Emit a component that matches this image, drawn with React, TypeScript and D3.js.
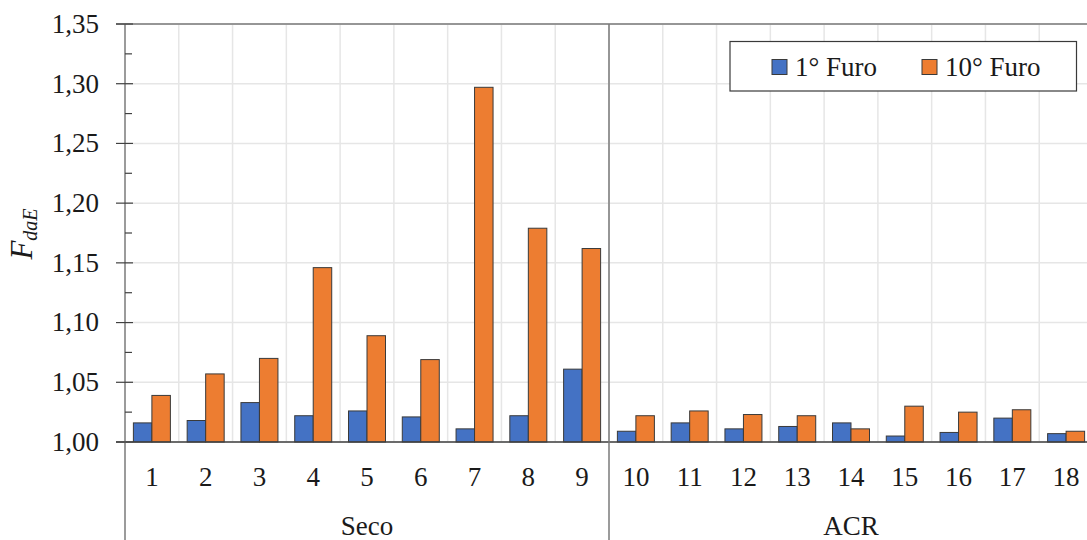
import React from "react";
import * as d3 from "d3";

const categories = ["1","2","3","4","5","6","7","8","9","10","11","12","13","14","15","16","17","18"];
const groups = [
  { name: "Seco", from: 0, to: 9 },
  { name: "ACR", from: 9, to: 18 },
];
const seriesNames = ["1° Furo", "10° Furo"];
const furo1 = [1.016, 1.018, 1.033, 1.022, 1.026, 1.021, 1.011, 1.022, 1.061, 1.009, 1.016, 1.011, 1.013, 1.016, 1.005, 1.008, 1.020, 1.007];
const furo10 = [1.039, 1.057, 1.070, 1.146, 1.089, 1.069, 1.297, 1.179, 1.162, 1.022, 1.026, 1.023, 1.022, 1.011, 1.030, 1.025, 1.027, 1.009];
const yTicks = [1.0, 1.05, 1.1, 1.15, 1.2, 1.25, 1.3, 1.35];
const colors = ["#4472C4", "#ED7D31"];

export default function App() {
  const W = 1087, H = 540;
  const left = 125, right = 1093, top = 24, bottom = 442;
  const font = '"Liberation Serif", "Times New Roman", Tinos, Times, serif';
  const fs = 27;
  const y = d3.scaleLinear().domain([1.0, 1.35]).range([bottom, top]);
  const x = d3.scaleBand<string>().domain(categories).range([left, right]).paddingInner(0).paddingOuter(0);
  const xi = d3.scaleBand<string>().domain(seriesNames).range([0, x.bandwidth()]).paddingInner(0).paddingOuter(0.4535);
  const minorTicks = d3.range(1.025, 1.35, 0.05);
  const seriesData = [furo1, furo10];
  const axisColor = "#7a7a7a";
  const gridColor = "#e6e6e6";

  return (
    <svg width={W} height={H} style={{ position: "absolute", left: 0, top: 0, background: "#fff", fontFamily: font }}>
      {yTicks.map((t) => (
        <line key={"hg" + t} x1={left} x2={right} y1={y(t)} y2={y(t)} stroke={gridColor} strokeWidth={1.5} />
      ))}
      {categories.map((c, i) => i > 0 && (
        <line key={"vg" + c} x1={x(c)!} x2={x(c)!} y1={top} y2={bottom} stroke={gridColor} strokeWidth={1.5} />
      ))}
      {categories.map((c, i) => (
        <g key={"b" + c} transform={`translate(${x(c)},0)`}>
          {seriesNames.map((s, k) => {
            const v = seriesData[k][i];
            return (
              <rect key={s} x={xi(s)!} y={y(v)} width={xi.bandwidth()} height={y(1.0) - y(v)}
                fill={colors[k]} stroke="#3a3a3a" strokeWidth={1} />
            );
          })}
        </g>
      ))}
      <line x1={left - 9} x2={right} y1={top} y2={top} stroke={axisColor} strokeWidth={1.5} />
      <line x1={left - 9} x2={right} y1={y(1.0)} y2={y(1.0)} stroke="#404040" strokeWidth={1.5} />
      <line x1={left} x2={left} y1={top} y2={H} stroke={axisColor} strokeWidth={1.5} />
      {yTicks.map((t) => (
        <g key={"yt" + t}>
          <line x1={left - 9} x2={left + 8} y1={y(t)} y2={y(t)} stroke="#404040" strokeWidth={1.2} />
          <text x={99} y={y(t)} dy="0.33em" textAnchor="end" fontSize={fs} fill="#1a1a1a">
            {d3.format(".2f")(t).replace(".", ",")}
          </text>
        </g>
      ))}
      {minorTicks.map((t) => (
        <line key={"mt" + t} x1={left} x2={left + 7} y1={y(t)} y2={y(t)} stroke="#404040" strokeWidth={1.2} />
      ))}
      {groups.slice(1).map((g) => (
        <line key={"gs" + g.name} x1={x(categories[g.from])!} x2={x(categories[g.from])!} y1={top} y2={H} stroke={axisColor} strokeWidth={1.5} />
      ))}
      {categories.map((c) => (
        <text key={"xl" + c} x={x(c)! + x.bandwidth() / 2} y={486} textAnchor="middle" fontSize={fs} fill="#1a1a1a">{c}</text>
      ))}
      {groups.map((g) => {
        const x0 = x(categories[g.from])!;
        const x1 = g.to < categories.length ? x(categories[g.to])! : right;
        return (
          <text key={"gl" + g.name} x={(x0 + x1) / 2} y={535} textAnchor="middle" fontSize={fs} fill="#1a1a1a">{g.name}</text>
        );
      })}
      <text transform={`translate(32,234) rotate(-90)`} textAnchor="middle" fontSize={31} fontStyle="italic" fill="#1a1a1a">
        F<tspan fontSize={20} dy={5}>daE</tspan>
      </text>
      <rect x={730} y={41.5} width={346.5} height={49.5} fill="#fff" stroke="#3a3a3a" strokeWidth={1.2} />
      {seriesNames.map((s, k) => {
        const lx = [772, 922][k];
        return (
          <g key={"lg" + s}>
            <rect x={lx} y={59.5} width={15} height={15} fill={colors[k]} stroke="#3a3a3a" strokeWidth={1} />
            <text x={lx + 23} y={76} fontSize={fs} fill="#1a1a1a">{s}</text>
          </g>
        );
      })}
    </svg>
  );
}
